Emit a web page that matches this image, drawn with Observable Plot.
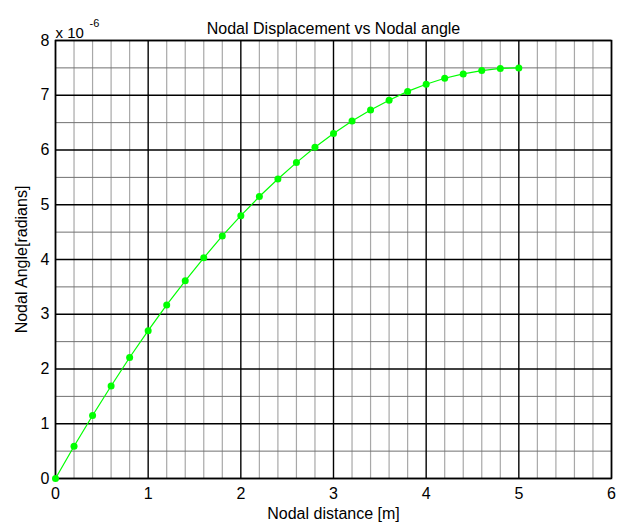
<!DOCTYPE html>
<html><head><meta charset="utf-8">
<script src="https://cdn.jsdelivr.net/npm/d3@7"></script>
<script src="https://cdn.jsdelivr.net/npm/@observablehq/plot@0.6"></script>
<style>
body{margin:0;background:#fff}
svg{font-family:"Liberation Sans",Arial,Helvetica,sans-serif}
</style>
</head><body><div id="chart"></div>
<script>
// Data (angle values in units of 1e-6 rad)
const nodalDistance = [0,0.2,0.4,0.6,0.8,1.0,1.2,1.4,1.6,1.8,2.0,2.2,2.4,2.6,2.8,3.0,3.2,3.4,3.6,3.8,4.0,4.2,4.4,4.6,4.8,5.0];
const nodalAngle    = [0,0.59,1.15,1.69,2.21,2.70,3.17,3.61,4.03,4.43,4.80,5.15,5.47,5.77,6.05,6.30,6.53,6.73,6.91,7.07,7.20,7.31,7.39,7.45,7.49,7.50];
const xTicks = [0,1,2,3,4,5,6];
const yTicks = [0,1,2,3,4,5,6,7,8];
const xMinor = [0.2,0.4,0.6,0.8,1.2,1.4,1.6,1.8,2.2,2.4,2.6,2.8,3.2,3.4,3.6,3.8,4.2,4.4,4.6,4.8,5.2,5.4,5.6,5.8];
const yMinor = [0.5,1.5,2.5,3.5,4.5,5.5,6.5,7.5];
const titleText = "Nodal Displacement vs Nodal angle";
const xLabel = "Nodal distance [m]";
const yLabel = "Nodal Angle[radians]";
const exponentBase = "x 10";
const exponentPow = "-6";

const data = nodalDistance.map((x, i) => ({x, y: nodalAngle[i]}));

const chart = Plot.plot({
  width: 628,
  height: 523,
  marginLeft: 55,
  marginRight: 17,
  marginTop: 40,
  marginBottom: 45,
  x: {domain: [0, 6]},
  y: {domain: [0, 8]},
  marks: [
    Plot.ruleX(xMinor, {stroke: "#a8a8a8", strokeWidth: 1.2}),
    Plot.ruleY(yMinor, {stroke: "#707070", strokeWidth: 1}),
    Plot.ruleX(xTicks, {stroke: "#000", strokeWidth: 1.4}),
    Plot.ruleY(yTicks, {stroke: "#000", strokeWidth: 1.4}),
    Plot.frame({stroke: "#000", strokeWidth: 1.5}),
    Plot.axisX({ticks: xTicks, tickSize: 0, tickPadding: 9, fontSize: 16, tickFormat: d => String(d),
      label: xLabel, labelAnchor: "center", labelArrow: "none", labelOffset: 40, color: "#000"}),
    Plot.axisY({ticks: yTicks, tickSize: 0, tickPadding: 6, fontSize: 16, tickFormat: d => String(d),
      label: yLabel, labelAnchor: "center", labelArrow: "none", labelOffset: 40, color: "#000"}),
    Plot.line(data, {x: "x", y: "y", stroke: "#00ff00", strokeWidth: 1.2}),
    Plot.dot(data, {x: "x", y: "y", r: 3.5, fill: "#00ff00", stroke: "none"}),
    Plot.text([titleText], {frameAnchor: "top", dy: -18, fontSize: 16, fill: "#000", text: d => d}),
    Plot.text([exponentBase], {frameAnchor: "top-left", dy: -13, dx: 0, textAnchor: "start", fontSize: 15, fill: "#000", text: d => d}),
    Plot.text([exponentPow], {frameAnchor: "top-left", dy: -21, dx: 34, textAnchor: "start", fontSize: 11, fill: "#000", text: d => d})
  ]
});
document.getElementById("chart").appendChild(chart);
</script>
</body></html>
